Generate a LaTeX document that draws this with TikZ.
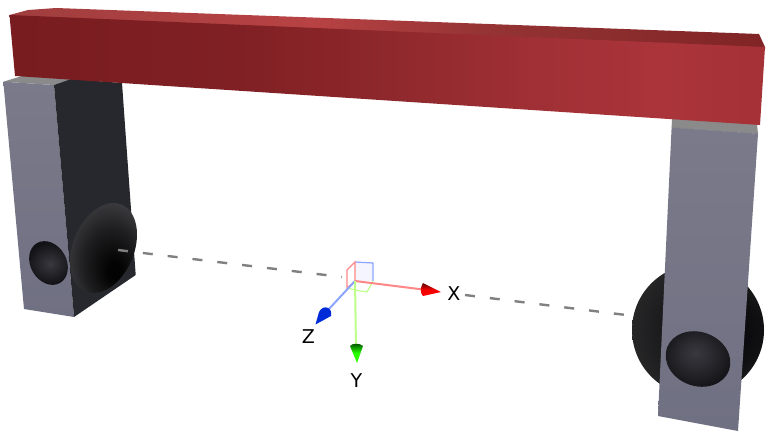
\documentclass[tikz,border=0pt]{standalone}
\usepackage{fontspec}
\setmainfont{DejaVu Sans}
\pgfdeclareradialshading{hemileft}{\pgfpoint{8bp}{-13bp}}{color(0bp)=(rgb,255:red,2;green,2;blue,2);color(5bp)=(rgb,255:red,4;green,4;blue,4);color(18bp)=(rgb,255:red,30;green,30;blue,32);color(32bp)=(rgb,255:red,68;green,68;blue,72);color(50bp)=(rgb,255:red,72;green,72;blue,76)}
\pgfdeclareradialshading{ballright}{\pgfpoint{14bp}{-1bp}}{color(0bp)=(rgb,255:red,8;green,8;blue,10);color(14bp)=(rgb,255:red,16;green,16;blue,19);color(39bp)=(rgb,255:red,50;green,50;blue,50);color(50bp)=(rgb,255:red,50;green,50;blue,50)}
\pgfdeclareradialshading{smallballa}{\pgfpoint{2bp}{-1bp}}{color(0bp)=(rgb,255:red,56;green,56;blue,62);color(8bp)=(rgb,255:red,44;green,44;blue,50);color(26bp)=(rgb,255:red,18;green,18;blue,22);color(50bp)=(rgb,255:red,18;green,18;blue,22)}
\pgfdeclareradialshading{smallballb}{\pgfpoint{-2bp}{5bp}}{color(0bp)=(rgb,255:red,56;green,56;blue,62);color(8bp)=(rgb,255:red,46;green,46;blue,52);color(28bp)=(rgb,255:red,16;green,16;blue,20);color(50bp)=(rgb,255:red,16;green,16;blue,20)}
\pgfdeclarehorizontalshading{beamfront}{100bp}{color(0bp)=(rgb,255:red,120;green,28;blue,32);color(25bp)=(rgb,255:red,120;green,28;blue,32);color(40bp)=(rgb,255:red,128;green,32;blue,36);color(50bp)=(rgb,255:red,142;green,40;blue,44);color(60bp)=(rgb,255:red,160;green,48;blue,53);color(68bp)=(rgb,255:red,170;green,52;blue,58);color(75bp)=(rgb,255:red,165;green,50;blue,55);color(100bp)=(rgb,255:red,165;green,50;blue,55)}
\pgfdeclarehorizontalshading{beamtop}{100bp}{color(0bp)=(rgb,255:red,160;green,62;blue,62);color(25bp)=(rgb,255:red,160;green,62;blue,62);color(45bp)=(rgb,255:red,184;green,66;blue,68);color(56bp)=(rgb,255:red,150;green,52;blue,52);color(75bp)=(rgb,255:red,128;green,36;blue,38);color(100bp)=(rgb,255:red,128;green,36;blue,38)}
\definecolor{facelight}{RGB}{122,122,138}
\definecolor{facelow}{RGB}{112,112,131}
\definecolor{facedark}{RGB}{38,40,46}
\definecolor{facetop}{RGB}{138,138,138}
\definecolor{axisred}{RGB}{255,135,135}
\definecolor{axisblue}{RGB}{140,165,255}
\definecolor{axisgreen}{RGB}{190,255,140}
\tikzset{
  lightface/.style={top color=facelight,bottom color=facelow,draw=none},
  topface/.style={fill=facetop,draw=none},
  guide/.style={draw=gray,line width=2.4pt,dash pattern=on 10pt off 15pt},
  axisline/.style={line width=2pt},
  boxline/.style={line width=1.2pt},
  axislabel/.style={font=\fontsize{19}{19}\selectfont,inner sep=0pt,text=black}
}
\begin{document}
\begin{tikzpicture}[x=1pt,y=-1pt]
\useasboundingbox (0,0) rectangle (768,431);
% right block
\path[shading=ballright] (698,330) circle [radius=66];
\fill[facetop] (672,118) -- (757,124) -- (758,134) -- (671.6,128) -- cycle;
\path[lightface] (671.6,127.6) -- (758,133.7) -- (738,431) -- (658,416) -- cycle;
\path[shading=smallballb,rotate around={-20:(698,359)}] (698,359) ellipse [x radius=33,y radius=27];
% left block
\path[topface] (3.3,81.7) -- (22,76) -- (71,79) -- (54,85) -- cycle;
\path[lightface] (3.3,81.7) -- (54,85) -- (74,317) -- (24,309) -- cycle;
\fill[facedark] (54,85) -- (71,79) -- (122,83) -- (135.7,275) -- (74,317) -- cycle;
\path[shading=hemileft,rotate around={67.5:(103.5,248)}] (103.5,248) ellipse [x radius=47,y radius=30.6];
\path[shading=smallballa,rotate around={120:(48.5,263)}] (48.5,263) ellipse [x radius=23,y radius=18];
% beam
\path[shading=beamtop] (9.5,15) -- (28,10) -- (56,8) -- (759,34) -- (765,47) -- (765,49) -- (9.5,17) -- cycle;
\path[shading=beamfront] (9.5,15) -- (765,47) -- (760,125) -- (15,76) -- cycle;
% guide line
\coordinate (gA) at (118,250);
\coordinate (gB) at (342,277);
\coordinate (gC) at (465,295);
\coordinate (gD) at (626,315);
\draw[guide] (gA) -- (gB);
\draw[guide] (gC) -- (gD);
% gizmo
\coordinate (o) at (355,281);
\coordinate (xb) at (423,289.5);
\coordinate (zb) at (328,310);
\coordinate (yb) at (356,347);
\fill[blue!4] (355,262) rectangle (373,281);
\draw[axisblue,boxline] (355,262) -- (373,263) -- (373,281);
\draw[axisred,boxline] (355,262) -- (347,270) -- (347,288) -- (o) -- cycle;
\draw[axisgreen,boxline] (347,288) -- (355,290) -- (367,292) -- (373,281);
\draw[axisred,axisline] (o) -- (xb);
\draw[axisblue,axisline] (o) -- (zb);
\draw[axisgreen,axisline] (o) -- (yb);
\shade[top color=red!35!black,bottom color=red!100,middle color=red!95!black] (423,283) .. controls (420,288) and (420,293) .. (423,296) -- (441,292) -- cycle;
\fill[blue!80!cyan!85!black] (315.5,324.5) -- (319,312) .. controls (323,304) and (333,307) .. (331,316) -- cycle;
\shade[top color=green!30!black,bottom color=green!80!yellow,middle color=green!85!yellow] (350,346) .. controls (352,343) and (360,343) .. (363,346) -- (357,363) -- cycle;
% labels
\node[axislabel] (lx) at (454,293.5) {X};
\node[axislabel] (lz) at (308.5,337) {Z};
\node[axislabel] (ly) at (356.5,380.5) {Y};
\end{tikzpicture}
\end{document}
